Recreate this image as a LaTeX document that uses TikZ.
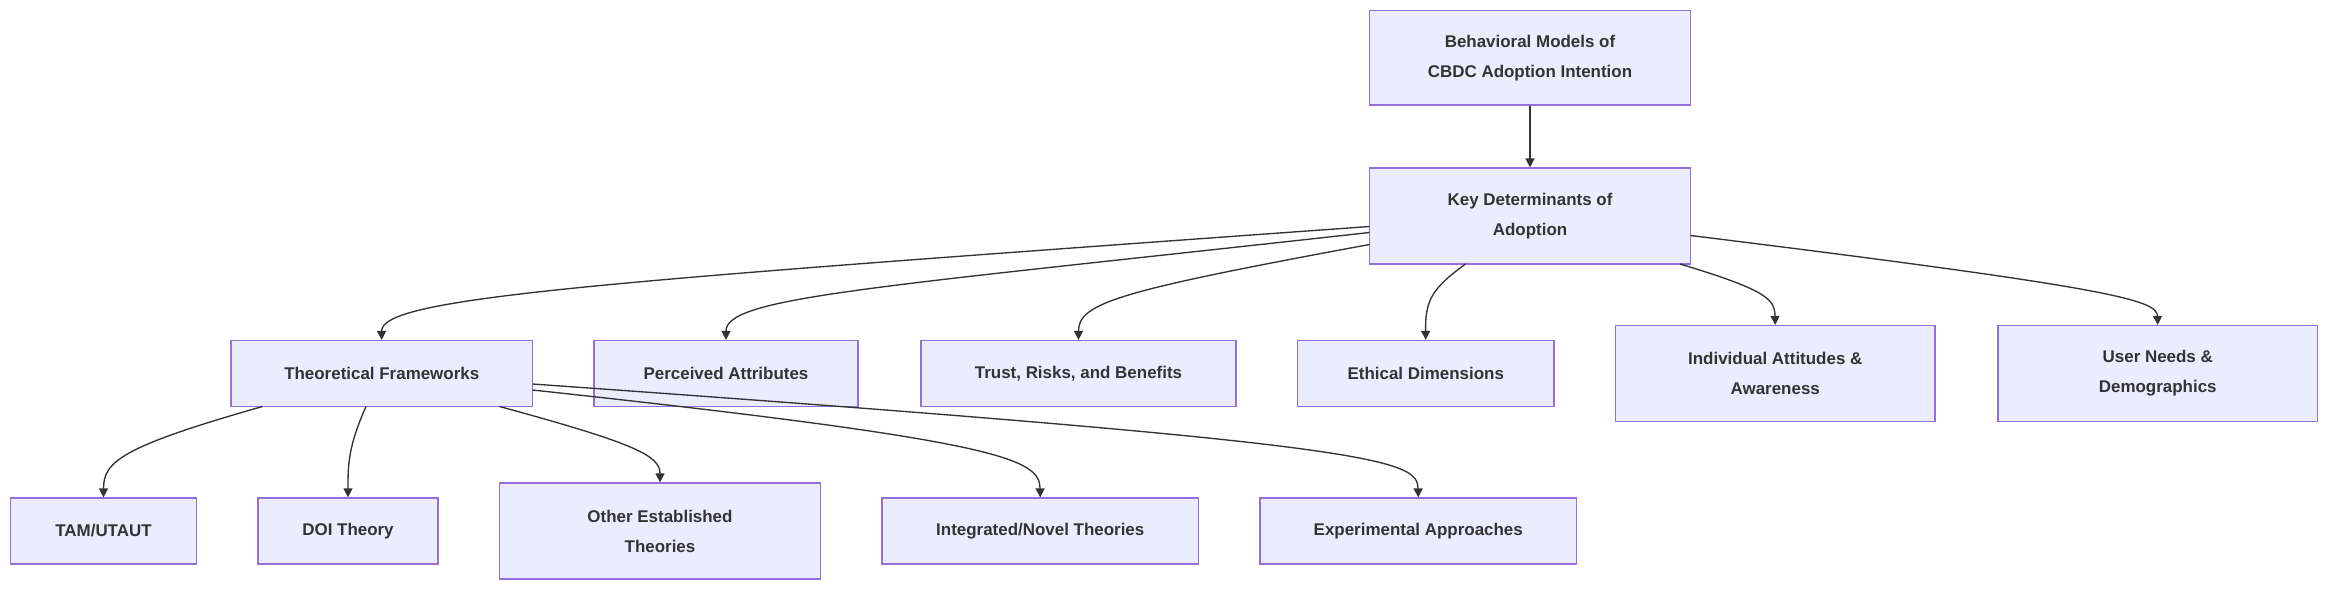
\documentclass[tikz,border=0pt]{standalone}
\usepackage{fontspec}
\setmainfont{Liberation Sans}
\usetikzlibrary{arrows.meta}
\definecolor{bfill}{HTML}{ECECFF}
\definecolor{bdraw}{HTML}{9370DB}
\definecolor{ink}{HTML}{333333}
\begin{document}
\begin{tikzpicture}[x=1pt,y=-1pt,
  box/.style={draw=bdraw,fill=bfill,line width=0.8pt,inner sep=0pt,align=center,text=ink,font=\fontsize{11.3}{20}\selectfont\bfseries},
  arr/.style={draw=ink,line width=0.9pt,-{Triangle[length=6pt,width=6pt]}}]
\useasboundingbox (0,0) rectangle (1568,398);
\node[box,minimum width=214pt,minimum height=63pt] (top) at (1020,38.5) {Behavioral Models of\\CBDC Adoption Intention};
\node[box,minimum width=214pt,minimum height=64pt] (k) at (1020,144) {Key Determinants of\\Adoption};
\node[box,minimum width=201pt,minimum height=44pt] (th) at (254.5,249) {Theoretical Frameworks};
\node[box,minimum width=176pt,minimum height=44pt] (pa) at (484,249) {Perceived Attributes};
\node[box,minimum width=210pt,minimum height=44pt] (tr) at (719,249) {Trust, Risks, and Benefits};
\node[box,minimum width=171pt,minimum height=44pt] (et) at (950.5,249) {Ethical Dimensions};
\node[box,minimum width=213pt,minimum height=64pt] (ia) at (1183.5,249) {Individual Attitudes \&\\Awareness};
\node[box,minimum width=213pt,minimum height=64pt] (un) at (1438.5,249) {User Needs \&\\Demographics};
\node[box,minimum width=124pt,minimum height=44pt] (tam) at (69,354) {TAM/UTAUT};
\node[box,minimum width=120pt,minimum height=44pt] (doi) at (232,354) {DOI Theory};
\node[box,minimum width=214pt,minimum height=64pt] (ot) at (440,354) {Other Established\\Theories};
\node[box,minimum width=211pt,minimum height=44pt] (in) at (693.5,354) {Integrated/Novel Theories};
\node[box,minimum width=211pt,minimum height=44pt] (ex) at (945.5,354) {Experimental Approaches};
\coordinate (k1) at (913,151); \coordinate (k2) at (913,155); \coordinate (k3) at (913,163);
\coordinate (k4) at (977,176); \coordinate (k5) at (1120,176); \coordinate (k6) at (1127,157);
\coordinate (t1) at (175,271); \coordinate (t2) at (244,271); \coordinate (t3) at (333,271);
\coordinate (t4) at (355,260); \coordinate (t5) at (355,256);
\draw[arr] (top) -- (k);
\draw[arr] (k1) .. controls (400,188) and (254,198) .. (th.north);
\draw[arr] (k2) .. controls (580,192) and (484,198) .. (pa.north);
\draw[arr] (k3) .. controls (745,194) and (719,202) .. (tr.north);
\draw[arr] (k4) .. controls (955,192) and (950,200) .. (et.north);
\draw[arr] (k5) .. controls (1180,194) and (1183,200) .. (ia.north);
\draw[arr] (k6) .. controls (1410,192) and (1438,200) .. (un.north);
\draw[arr] (t1) .. controls (80,298) and (69,308) .. (tam.north);
\draw[arr] (t2) .. controls (232,298) and (232,310) .. (doi.north);
\draw[arr] (t3) .. controls (425,296) and (440,304) .. (ot.north);
\draw[arr] (t4) .. controls (670,294) and (693,306) .. (in.north);
\draw[arr] (t5) .. controls (920,296) and (945,306) .. (ex.north);
\end{tikzpicture}
\end{document}
